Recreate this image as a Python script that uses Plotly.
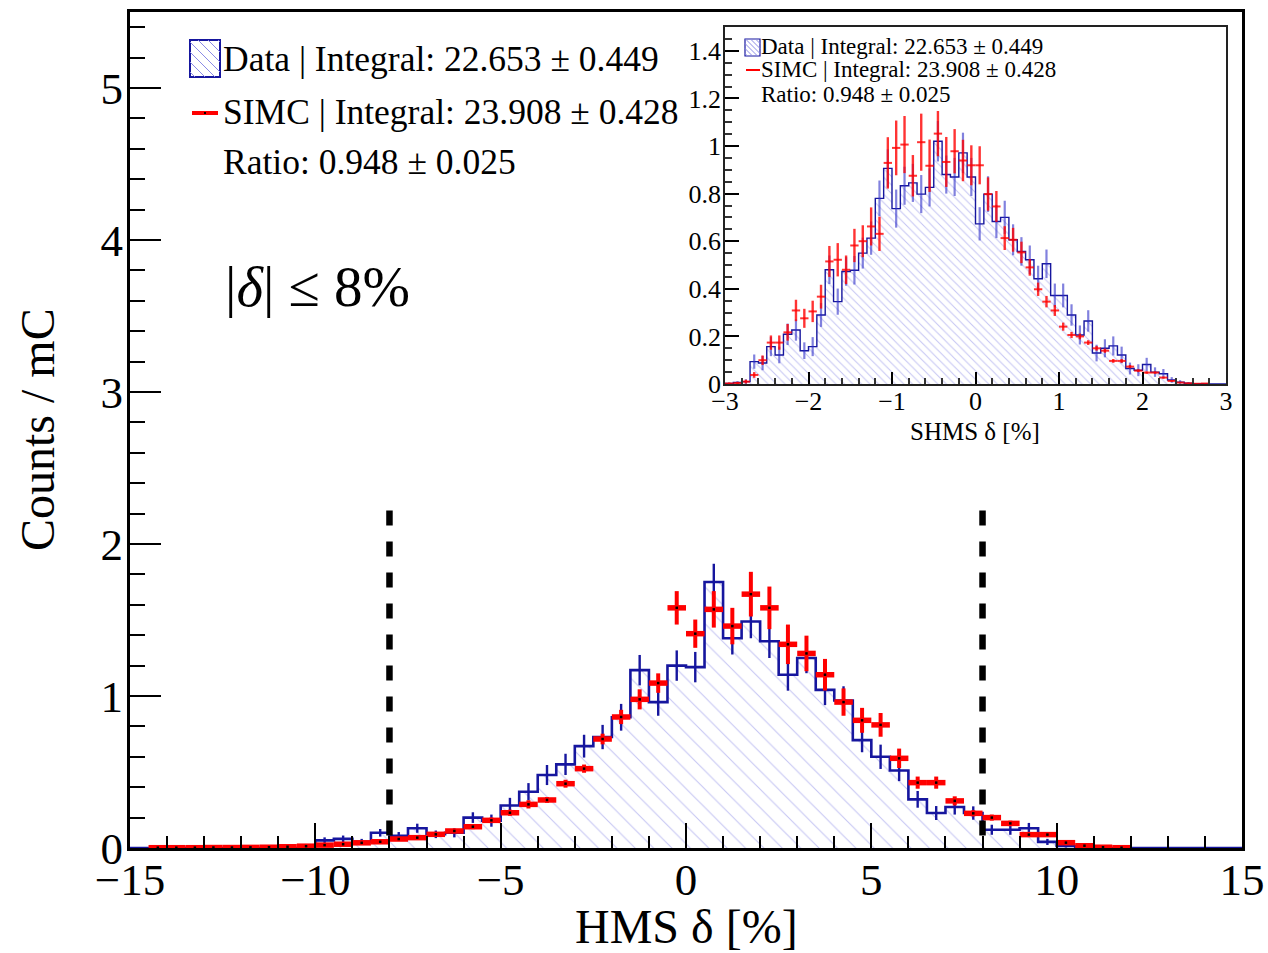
import plotly.graph_objects as go

# ---------------- HMS delta (main panel), 0.5 % bins from -15 to 15 ----------------
hms_edges = [-15 + 0.5 * k for k in range(61)]

hms_data = [0, 0, 0, 0, 0, 0, 0, 0, 0, 0,
            0.05, 0.06, 0.04, 0.10, 0.08, 0.13, 0.09, 0.10, 0.20, 0.18,
            0.28, 0.37, 0.48, 0.55, 0.67, 0.73, 0.86, 1.17, 0.96, 1.20,
            1.19, 1.75, 1.38, 1.49, 1.36, 1.14, 1.25, 1.04, 0.97, 0.71,
            0.60, 0.51, 0.32, 0.23, 0.27, 0.23, 0.12, 0.12, 0.13, 0.04,
            0.013, 0, 0, 0, 0, 0, 0, 0, 0, 0]
hms_data_err = [0, 0, 0, 0, 0, 0, 0, 0, 0, 0,
                0.02, 0.022, 0.02, 0.025, 0.025, 0.03, 0.025, 0.03, 0.035, 0.04,
                0.05, 0.057, 0.066, 0.07, 0.075, 0.08, 0.088, 0.10, 0.09, 0.10,
                0.10, 0.12, 0.107, 0.11, 0.11, 0.105, 0.10, 0.10, 0.094, 0.08,
                0.08, 0.07, 0.055, 0.046, 0.05, 0.044, 0.033, 0.033, 0.035, 0.02,
                0.01, 0, 0, 0, 0, 0, 0, 0, 0, 0]

hms_simc = [None, 0.002, 0.002, 0.002, 0.003, 0.003, 0.004, 0.005, 0.008, 0.012,
            0.019, 0.025, 0.034, 0.041, 0.059, 0.068, 0.09, 0.112, 0.14, 0.182,
            0.232, 0.287, 0.316, 0.423, 0.522, 0.717, 0.862, 0.978, 1.085, 1.58,
            1.41, 1.57, 1.46, 1.67, 1.58, 1.34, 1.28, 1.14, 0.96, 0.84,
            0.81, 0.59, 0.43, 0.43, 0.31, 0.228, 0.20, 0.162, 0.088, 0.088,
            0.035, 0.015, 0.005, 0.002, None, None, None, None, None, None]
hms_simc_err = [0, 0.002, 0.002, 0.002, 0.002, 0.002, 0.003, 0.003, 0.004, 0.005,
                0.006, 0.007, 0.008, 0.009, 0.01, 0.011, 0.012, 0.014, 0.016, 0.018,
                0.02, 0.027, 0.019, 0.026, 0.027, 0.035, 0.047, 0.066, 0.064, 0.11,
                0.093, 0.12, 0.12, 0.147, 0.14, 0.13, 0.117, 0.104, 0.09, 0.082,
                0.078, 0.064, 0.04, 0.04, 0.03, 0.02, 0.02, 0.018, 0.015, 0.015,
                0.01, 0.006, 0.004, 0.002, 0, 0, 0, 0, 0, 0]

delta_cut = [-8, 8]
cut_line_top = 2.22

# ---------------- SHMS delta (inset), 0.1 % bins from -3 to 3 ----------------
shms_edges = [-3 + 0.1 * k for k in range(61)]

shms_data = [0.002, 0.006, 0.01, 0.094, 0.088, 0.157, 0.122, 0.209, 0.227, 0.14,
             0.157, 0.29, 0.48, 0.346, 0.473, 0.478, 0.55, 0.613, 0.78, 0.906,
             0.737, 0.833, 0.845, 0.798, 0.826, 1.02, 0.88, 0.87, 0.971, 0.87,
             0.673, 0.798, 0.683, 0.70, 0.606, 0.557, 0.522, 0.442, 0.505, 0.372,
             0.372, 0.29, 0.206, 0.265, 0.13, 0.15, 0.16, 0.122, 0.065, 0.058,
             0.082, 0.05, 0.043, 0.017, 0.008, 0.003, 0.001, 0.001, 0.0, 0.0]
shms_data_err = [0.003, 0.006, 0.01, 0.03, 0.03, 0.04, 0.035, 0.045, 0.045, 0.035,
                 0.04, 0.05, 0.06, 0.055, 0.06, 0.06, 0.065, 0.07, 0.075, 0.08,
                 0.08, 0.08, 0.08, 0.08, 0.08, 0.085, 0.08, 0.08, 0.085, 0.08,
                 0.07, 0.075, 0.07, 0.07, 0.065, 0.06, 0.06, 0.055, 0.06, 0.05,
                 0.05, 0.045, 0.04, 0.045, 0.035, 0.038, 0.04, 0.035, 0.025, 0.025,
                 0.028, 0.02, 0.02, 0.012, 0.008, 0.005, 0.003, 0.003, 0, 0]

shms_simc = [0.002, 0.004, 0.01, 0.038, 0.10, 0.174, 0.174, 0.217, 0.309, 0.276,
             0.305, 0.367, 0.515, 0.522, 0.48, 0.582, 0.60, 0.662, 0.631, 0.929,
             0.992, 1.006, 0.875, 1.016, 0.917, 1.052, 0.933, 0.978, 0.939, 0.919,
             0.919, 0.798, 0.746, 0.613, 0.606, 0.553, 0.49, 0.398, 0.346, 0.309,
             0.241, 0.206, 0.20, 0.174, 0.15, 0.14, 0.097, 0.097, 0.073, 0.056,
             0.048, 0.048, 0.027, 0.013, 0.006, 0.003, 0.001, 0.002, None, None]
shms_simc_err = [0.004, 0.005, 0.008, 0.012, 0.02, 0.03, 0.03, 0.035, 0.045, 0.04,
                 0.045, 0.05, 0.065, 0.07, 0.06, 0.07, 0.067, 0.08, 0.072, 0.108,
                 0.115, 0.12, 0.087, 0.12, 0.11, 0.095, 0.105, 0.093, 0.087, 0.084,
                 0.08, 0.07, 0.065, 0.05, 0.05, 0.045, 0.035, 0.028, 0.024, 0.023,
                 0.017, 0.013, 0.012, 0.01, 0.01, 0.009, 0.008, 0.008, 0.007, 0.006,
                 0.005, 0.005, 0.004, 0.003, 0.002, 0.002, 0.001, 0.001, 0, 0]

legend_lines = ["Data | Integral: 22.653 ± 0.449",
                "SIMC | Integral: 23.908 ± 0.428",
                "Ratio: 0.948 ± 0.025"]

# ---------------- styling ----------------
FONT = "Liberation Serif"
BLUE = "#16169e"
HATCH = "#8b8be6"
RED = "#ff0000"

W, H = 1268, 953
ML, MR, MT, MB = 130, 26, 12, 105
PW, PH = W - ML - MR, H - MT - MB


def fx(p):
    return (p - ML) / PW


def fy(p):
    return (H - MB - p) / PH


def centers(edges):
    return [(a + b) / 2 for a, b in zip(edges[:-1], edges[1:])]


def halfwidths(edges):
    return [(b - a) / 2 for a, b in zip(edges[:-1], edges[1:])]


fig = go.Figure()


def add_hist(edges, vals, errs, xa, ya, lw, err_color, err_w, pat_size, pat_sol):
    fig.add_trace(go.Scatter(
        x=edges, y=list(vals) + [vals[-1]], mode="lines",
        line=dict(shape="hv", color=BLUE, width=lw),
        fill="tozeroy", fillcolor="rgba(0,0,0,0)",
        fillpattern=dict(shape="\\", fgcolor=HATCH, bgcolor="rgba(255,255,255,0)",
                         size=pat_size, solidity=pat_sol),
        xaxis=xa, yaxis=ya, showlegend=False, hoverinfo="skip"))
    cx = [c for c, e in zip(centers(edges), errs) if e > 0]
    cy = [v for v, e in zip(vals, errs) if e > 0]
    ce = [e for e in errs if e > 0]
    fig.add_trace(go.Scatter(
        x=cx, y=cy, mode="markers", marker=dict(size=1, color=err_color),
        error_y=dict(type="data", array=ce, color=err_color, thickness=err_w, width=0),
        xaxis=xa, yaxis=ya, showlegend=False, hoverinfo="skip"))


def add_points(edges, vals, errs, xa, ya, hthick, vthick, color, dot_color, dot):
    keep = [i for i, v in enumerate(vals) if v is not None]
    cx = [centers(edges)[i] for i in keep]
    hw = [halfwidths(edges)[i] for i in keep]
    fig.add_trace(go.Scatter(
        x=cx, y=[vals[i] for i in keep], mode="markers",
        marker=dict(size=dot, color=dot_color, symbol="square", line=dict(width=0)),
        error_x=dict(type="data", array=hw, color=color, thickness=hthick, width=0),
        error_y=dict(type="data", array=[errs[i] for i in keep], color=color,
                     thickness=vthick, width=0),
        xaxis=xa, yaxis=ya, showlegend=False, hoverinfo="skip"))


# main panel
add_hist(hms_edges, hms_data, hms_data_err, "x", "y", 2.6, BLUE, 2.4, 13, 0.08)
add_points(hms_edges, hms_simc, hms_simc_err, "x", "y", 5.5, 4, RED, "black", 2.5)
for xc in delta_cut:
    fig.add_trace(go.Scatter(
        x=[xc, xc], y=[cut_line_top, 0], mode="lines",
        line=dict(color="black", width=6.5, dash="15px,16px"),
        showlegend=False, hoverinfo="skip"))

# inset panel
add_hist(shms_edges, shms_data, shms_data_err, "x2", "y2", 1.4,
         "rgba(45,45,200,0.6)", 2.2, 6, 0.17)
add_points(shms_edges, shms_simc, shms_simc_err, "x2", "y2", 2, 2.4,
           "rgba(255,0,0,0.8)", "rgba(0,0,0,0)", 1)

axis_common = dict(showgrid=False, zeroline=False, ticks="inside", tickcolor="black",
                   linecolor="black", mirror=True, layer="above traces", automargin=False)

fig.update_layout(
    width=W, height=H, margin=dict(l=ML, r=MR, t=MT, b=MB, autoexpand=False),
    paper_bgcolor="white", plot_bgcolor="white", showlegend=False,
    font=dict(family=FONT, color="black"),
    xaxis=dict(axis_common, range=[-15, 15], domain=[0, 1], linewidth=3,
               tickvals=[-15, -10, -5, 0, 5, 10, 15], ticklen=25, tickwidth=2,
               minor=dict(dtick=1, ticklen=12, tickwidth=2, ticks="inside", tickcolor="black"),
               tickfont=dict(family=FONT, size=45), ticklabelstandoff=-10),
    yaxis=dict(axis_common, range=[0, 5.5], domain=[0, 1], linewidth=3,
               tickvals=[0, 1, 2, 3, 4, 5], ticklen=31, tickwidth=2,
               minor=dict(dtick=0.2, ticklen=15, tickwidth=2, ticks="inside", tickcolor="black"),
               tickfont=dict(family=FONT, size=45), ticklabelstandoff=-5),
    xaxis2=dict(axis_common, range=[-3, 3], domain=[fx(725), fx(1226)], anchor="y2",
                linewidth=1.6, linecolor="#222", dtick=1, ticklen=12, tickwidth=1.5,
                minor=dict(dtick=0.2, ticklen=6, tickwidth=1.5, ticks="inside", tickcolor="#333"),
                tickfont=dict(family=FONT, size=26), ticklabelstandoff=-7),
    yaxis2=dict(axis_common, range=[0, 1.5], domain=[fy(384), fy(27)], anchor="x2",
                linewidth=1.6, linecolor="#222", dtick=0.2, ticklen=14, tickwidth=1.5,
                minor=dict(dtick=0.05, ticklen=7, tickwidth=1.5, ticks="inside", tickcolor="#333"),
                tickfont=dict(family=FONT, size=26), ticklabelstandoff=-3),
)

annotations = []
shapes = []


def text(x, y, s, size, xanchor="left", angle=0):
    annotations.append(dict(x=fx(x), y=fy(y), xref="paper", yref="paper", text=s,
                            showarrow=False, xanchor=xanchor, yanchor="middle",
                            textangle=angle, borderpad=0,
                            font=dict(family=FONT, size=size, color="black")))


# axis titles
text(686, 926, "HMS δ [%]", 48, "center")
text(37, 430, "Counts / mC", 48, "center", -90)
text(975, 431, "SHMS δ [%]", 25, "center")
# cut label
text(224, 286, "|<i>δ</i>| ≤ 8%", 57)


def hatch_box(x0, y0, x1, y1, step, color_line, color_border, bw):
    shapes.append(dict(type="rect", xref="paper", yref="paper", x0=fx(x0), x1=fx(x1),
                       y0=fy(y0), y1=fy(y1), line=dict(color=color_border, width=bw),
                       fillcolor="white"))
    w, h = x1 - x0, y1 - y0
    t = -h + step / 2
    while t < w:
        ua, ub = max(0, t), min(w, h + t)
        if ub > ua:
            shapes.append(dict(type="line", xref="paper", yref="paper",
                               x0=fx(x0 + ua), y0=fy(y0 + ua - t),
                               x1=fx(x0 + ub), y1=fy(y0 + ub - t),
                               line=dict(color=color_line, width=1)))
        t += step


# main legend
hatch_box(190, 40, 220, 77, 10, HATCH, BLUE, 2)
shapes.append(dict(type="line", xref="paper", yref="paper", x0=fx(192), x1=fx(218),
                   y0=fy(113), y1=fy(113), line=dict(color=RED, width=4)))
shapes.append(dict(type="rect", xref="paper", yref="paper", x0=fx(204), x1=fx(206),
                   y0=fy(112), y1=fy(114), line=dict(width=0), fillcolor="black"))
for k, s in enumerate(legend_lines):
    text(222, [59, 112, 162][k], s, 35.5)

# inset legend
hatch_box(745, 39, 760, 56, 5, HATCH, BLUE, 1.2)
shapes.append(dict(type="line", xref="paper", yref="paper", x0=fx(746), x1=fx(760),
                   y0=fy(70), y1=fy(70), line=dict(color=RED, width=2)))
for k, s in enumerate(legend_lines):
    text(760, [46, 70, 94][k], s, 23)

fig.update_layout(annotations=annotations, shapes=shapes)
fig.write_html("out.html")
